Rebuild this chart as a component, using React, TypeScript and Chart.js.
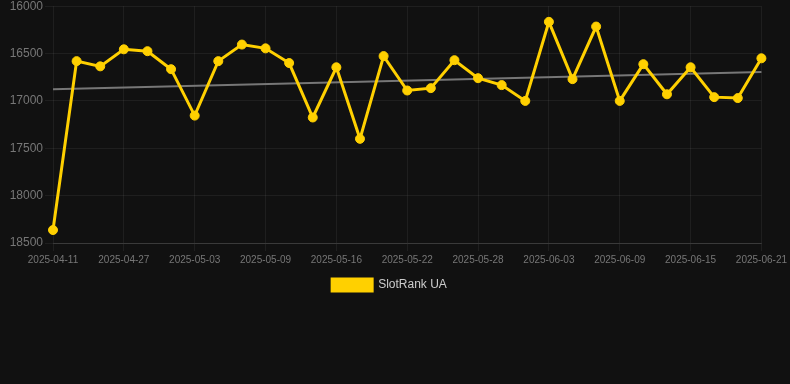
import React, { useEffect, useRef } from "react";
import { Chart, registerables } from "chart.js";

Chart.register(...registerables);

const dates: string[] = [
  "2025-04-11", "2025-04-23", "2025-04-25", "2025-04-27", "2025-04-29", "2025-05-01",
  "2025-05-03", "2025-05-05", "2025-05-07", "2025-05-09", "2025-05-11", "2025-05-13",
  "2025-05-16", "2025-05-18", "2025-05-20", "2025-05-22", "2025-05-24", "2025-05-26",
  "2025-05-28", "2025-05-30", "2025-06-01", "2025-06-03", "2025-06-05", "2025-06-07",
  "2025-06-09", "2025-06-11", "2025-06-13", "2025-06-15", "2025-06-17", "2025-06-19",
  "2025-06-21",
];

const rankValues: number[] = [
  18363, 16580, 16635, 16455, 16475, 16665,
  17155, 16580, 16405, 16445, 16600, 17175,
  16645, 17400, 16527, 16890, 16865, 16570,
  16760, 16833, 17000, 16165, 16770, 16215,
  17000, 16612, 16930, 16645, 16960, 16970,
  16550,
];

const trendStart = 16876;
const trendEnd = 16694;

const yTicks = { min: 16000, max: 18500, step: 500 };

export default function App() {
  const ref = useRef<HTMLCanvasElement | null>(null);

  useEffect(() => {
    if (!ref.current) return;
    const trend = dates.map((_, i) =>
      i === 0 ? trendStart : i === dates.length - 1 ? trendEnd : null
    );
    const chart = new Chart(ref.current, {
      type: "line",
      data: {
        labels: dates,
        datasets: [
          {
            label: "SlotRank UA",
            data: rankValues,
            borderColor: "#FFD000",
            backgroundColor: "#FFD000",
            borderWidth: 3,
            pointRadius: 4.5,
            pointBorderWidth: 1,
            pointHoverRadius: 4.5,
            pointBackgroundColor: "#FFD000",
            pointBorderColor: "#FFD000",
            tension: 0,
          },
          {
            label: "trend",
            data: trend,
            borderColor: "#777777",
            backgroundColor: "#777777",
            borderWidth: 2,
            pointRadius: 0,
            spanGaps: true,
          },
        ],
      },
      options: {
        animation: false,
        responsive: false,
        maintainAspectRatio: false,
        layout: { padding: { left: 0, right: 11, top: 0, bottom: 0 } },
        plugins: {
          tooltip: { enabled: false },
          legend: {
            position: "bottom",
            labels: {
              color: "#cccccc",
              font: { size: 12 },
              boxWidth: 40,
              boxHeight: 12,
              filter: (item) => item.text === "SlotRank UA",
            },
          },
        },
        scales: {
          x: {
            ticks: {
              color: "#777777",
              font: { size: 10 },
              autoSkip: false,
              maxRotation: 0,
              minRotation: 0,
              callback: function (_v, i) {
                return i % 3 === 0 ? dates[i] : "";
              },
            },
            grid: {
              color: (ctx) =>
                ctx.index % 3 === 0 ? "rgba(255,255,255,0.06)" : "rgba(0,0,0,0)",
              drawTicks: true,
            },
            border: { color: "rgba(255,255,255,0.12)" },
          },
          y: {
            reverse: true,
            min: yTicks.min,
            max: yTicks.max,
            afterFit: (scale) => {
              scale.width = 53;
            },
            ticks: {
              stepSize: yTicks.step,
              color: "#777777",
              font: { size: 12 },
              padding: 2,
              callback: (v) => String(v),
            },
            grid: { color: "rgba(255,255,255,0.06)", drawTicks: true },
            border: { display: false },
          },
        },
      },
    });
    return () => chart.destroy();
  }, []);

  return (
    <div
      style={{
        position: "fixed",
        left: 0,
        top: 0,
        width: 790,
        height: 384,
        background: "#111111",
        overflow: "hidden",
      }}
    >
      <canvas
        ref={ref}
        width={790}
        height={304}
        style={{ display: "block", marginTop: -3 }}
      />
    </div>
  );
}
